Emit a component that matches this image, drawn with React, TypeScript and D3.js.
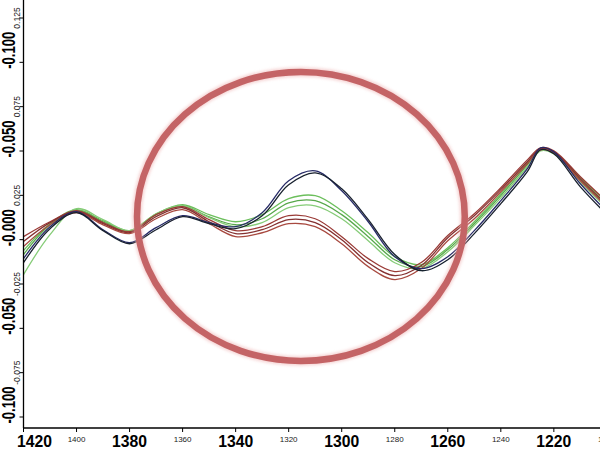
import React from "react";
import * as d3 from "d3";

// ---- data (wavenumber, cm-1; second-derivative style absorbance values) ----
const WAVENUMBERS = [1420, 1410, 1400, 1390, 1380, 1370, 1360, 1350, 1340, 1330, 1320, 1310, 1300, 1290, 1280, 1270, 1260, 1250, 1240, 1230, 1225, 1220, 1210, 1200];

const DARK_1 = [-0.0107, 0.0073, 0.0158, 0.0056, -0.0017, 0.0068, 0.0135, 0.0096, 0.0073, 0.0152, 0.0332, 0.0388, 0.0276, 0.0101, -0.0096, -0.0163, -0.0096, 0.0051, 0.0220, 0.0400, 0.0518, 0.0495, 0.0315, 0.0158];
const DARK_2 = [-0.0130, 0.0062, 0.0152, 0.0051, -0.0023, 0.0056, 0.0130, 0.0090, 0.0062, 0.0135, 0.0310, 0.0377, 0.0287, 0.0113, -0.0084, -0.0175, -0.0113, 0.0034, 0.0203, 0.0383, 0.0507, 0.0484, 0.0298, 0.0141];
const GREEN_1 = [-0.0062, 0.0090, 0.0169, 0.0107, 0.0051, 0.0146, 0.0197, 0.0141, 0.0101, 0.0141, 0.0231, 0.0248, 0.0163, 0.0039, -0.0096, -0.0141, -0.0045, 0.0101, 0.0259, 0.0434, 0.0512, 0.0495, 0.0349, 0.0208];
const GREEN_2 = [-0.0084, 0.0084, 0.0163, 0.0101, 0.0045, 0.0141, 0.0191, 0.0129, 0.0084, 0.0118, 0.0208, 0.0220, 0.0141, 0.0017, -0.0113, -0.0152, -0.0056, 0.0090, 0.0248, 0.0422, 0.0507, 0.0490, 0.0338, 0.0191];
const GREEN_3 = [-0.0197, 0.0028, 0.0175, 0.0113, 0.0051, 0.0146, 0.0191, 0.0124, 0.0073, 0.0096, 0.0180, 0.0191, 0.0118, -0.0006, -0.0130, -0.0163, -0.0068, 0.0079, 0.0236, 0.0411, 0.0501, 0.0484, 0.0327, 0.0175];
const RED_1 = [0.0017, 0.0101, 0.0163, 0.0096, 0.0045, 0.0141, 0.0186, 0.0113, 0.0051, 0.0073, 0.0135, 0.0118, 0.0017, -0.0107, -0.0180, -0.0129, 0.0023, 0.0146, 0.0293, 0.0450, 0.0518, 0.0501, 0.0355, 0.0214];
const RED_2 = [-0.0011, 0.0096, 0.0158, 0.0090, 0.0039, 0.0130, 0.0180, 0.0101, 0.0034, 0.0056, 0.0113, 0.0096, 0.0000, -0.0130, -0.0203, -0.0146, 0.0011, 0.0135, 0.0282, 0.0439, 0.0512, 0.0495, 0.0343, 0.0197];
const RED_3 = [-0.0039, 0.0084, 0.0152, 0.0084, 0.0034, 0.0118, 0.0169, 0.0090, 0.0017, 0.0039, 0.0090, 0.0073, -0.0023, -0.0152, -0.0225, -0.0163, -0.0006, 0.0118, 0.0270, 0.0428, 0.0507, 0.0490, 0.0332, 0.0186];

const SERIES_NAMES = ["green1", "green2", "green3", "red1", "red2", "red3", "dark1", "dark2"];
const SERIES_VALUES = [GREEN_1, GREEN_2, GREEN_3, RED_1, RED_2, RED_3, DARK_1, DARK_2];

const BIG_Y_TICKS = [0.1, 0.05, 0, -0.05, -0.1];
const BIG_Y_LABELS = ["-0.100", "-0.050", "-0.000", "-0.050", "-0.100"];
const SMALL_Y_TICKS = [0.125, 0.075, 0.025, -0.025, -0.075];
const SMALL_Y_LABELS = ["0.125", "0.075", "0.025", "-0.025", "-0.075"];

const BIG_X_TICKS = [1420, 1380, 1340, 1300, 1260, 1220];
const SMALL_X_TICKS = [1400, 1360, 1320, 1280, 1240, 1200];

// annotation ellipse (data units)
const ELLIPSE_CENTER_W = 1315.4;
const ELLIPSE_CENTER_V = 0.0131;
const ELLIPSE_HALF_W = 61.8;
const ELLIPSE_HALF_V = 0.0815;

// ---- styles ----
const COLORS: Record<string, string> = {
  green1: "#6cbf5c",
  green2: "#58a84c",
  green3: "#86cc78",
  red1: "#9a3a36",
  red2: "#843030",
  red3: "#a84a40",
  dark1: "#262a66",
  dark2: "#18202e",
};

const W = 600;
const H = 450;
const LEFT = 23.5;
const AXIS_Y = 428;

export default function App() {
  const x = d3.scaleLinear().domain([1420, 1202.6]).range([LEFT, 600]);
  const y = d3.scaleLinear().domain([0.125, -0.1]).range([18, 417]);

  const line = d3
    .line<[number, number]>()
    .x((d) => x(d[0]))
    .y((d) => y(d[1]))
    .curve(d3.curveCatmullRom.alpha(0.5));

  const font = "'Liberation Sans', Arial, sans-serif";

  const ecx = x(ELLIPSE_CENTER_W);
  const ecy = y(ELLIPSE_CENTER_V);
  const erx = Math.abs(x(ELLIPSE_CENTER_W + ELLIPSE_HALF_W) - ecx);
  const ery = Math.abs(y(ELLIPSE_CENTER_V + ELLIPSE_HALF_V) - ecy);

  return (
    <svg
      width={W}
      height={H}
      style={{ position: "fixed", left: 0, top: 0, background: "#fff" }}
    >
      <defs>
        <clipPath id="plot">
          <rect x={LEFT} y={0} width={600 - LEFT} height={AXIS_Y} />
        </clipPath>
        <filter id="glow" x="-20%" y="-20%" width="140%" height="140%">
          <feGaussianBlur stdDeviation="1.5" />
        </filter>
        <filter id="soft" x="-5%" y="-5%" width="110%" height="110%">
          <feGaussianBlur stdDeviation="0.35" />
        </filter>
      </defs>
      <rect x={0} y={0} width={W} height={H} fill="#fff" />

      <g clipPath="url(#plot)" filter="url(#soft)">
        {SERIES_VALUES.map((vals, i) => {
          const pts: [number, number][] = WAVENUMBERS.map((w, j) => [w, vals[j]]);
          return (
            <path
              key={SERIES_NAMES[i]}
              d={line(pts) || ""}
              fill="none"
              stroke={COLORS[SERIES_NAMES[i]]}
              strokeWidth={1.3}
            />
          );
        })}
      </g>

      {/* annotation ellipse */}
      <ellipse
        cx={ecx}
        cy={ecy}
        rx={erx}
        ry={ery}
        fill="none"
        stroke="#eeb0b0"
        strokeWidth={9.5}
        opacity={0.55}
        filter="url(#glow)"
      />
      <ellipse cx={ecx} cy={ecy} rx={erx} ry={ery} fill="none" stroke="#c46466" strokeWidth={6.5} />

      {/* axes */}
      <line x1={LEFT} x2={LEFT} y1={0} y2={AXIS_Y} stroke="#000" strokeWidth={1.3} />
      <line x1={LEFT} x2={600} y1={AXIS_Y} y2={AXIS_Y} stroke="#000" strokeWidth={1.3} />

      {[...BIG_Y_TICKS, ...SMALL_Y_TICKS].map((t) => (
        <line key={"yt" + t} x1={LEFT - 4} x2={LEFT} y1={y(t)} y2={y(t)} stroke="#000" strokeWidth={1} />
      ))}
      {BIG_Y_TICKS.map((t, i) => (
        <text
          key={"yb" + i}
          transform={`translate(15,${y(t) - 12}) rotate(-90)`}
          textAnchor="middle"
          fontFamily={font}
          fontWeight="bold"
          fontSize={18}
          textLength={37}
          lengthAdjust="spacingAndGlyphs"
          fill="#000"
        >
          {BIG_Y_LABELS[i]}
        </text>
      ))}
      {SMALL_Y_TICKS.map((t, i) => (
        <text
          key={"ys" + i}
          transform={`translate(20,${y(t)}) rotate(-90)`}
          textAnchor="middle"
          fontFamily={font}
          fontSize={8.5}
          fill="#222"
        >
          {SMALL_Y_LABELS[i]}
        </text>
      ))}

      {[...BIG_X_TICKS, ...SMALL_X_TICKS].map((t) => (
        <line key={"xt" + t} x1={x(t)} x2={x(t)} y1={AXIS_Y} y2={AXIS_Y + 4} stroke="#000" strokeWidth={1} />
      ))}
      {BIG_X_TICKS.map((t) => (
        <text
          key={"xb" + t}
          x={Math.max(x(t), 34.5)}
          y={446.5}
          textAnchor="middle"
          fontFamily={font}
          fontWeight="bold"
          fontSize={17}
          textLength={35}
          lengthAdjust="spacingAndGlyphs"
          fill="#000"
        >
          {t}
        </text>
      ))}
      {SMALL_X_TICKS.map((t) => (
        <text
          key={"xs" + t}
          x={x(t)}
          y={442}
          textAnchor="middle"
          fontFamily={font}
          fontSize={8}
          fill="#222"
        >
          {t}
        </text>
      ))}
    </svg>
  );
}
